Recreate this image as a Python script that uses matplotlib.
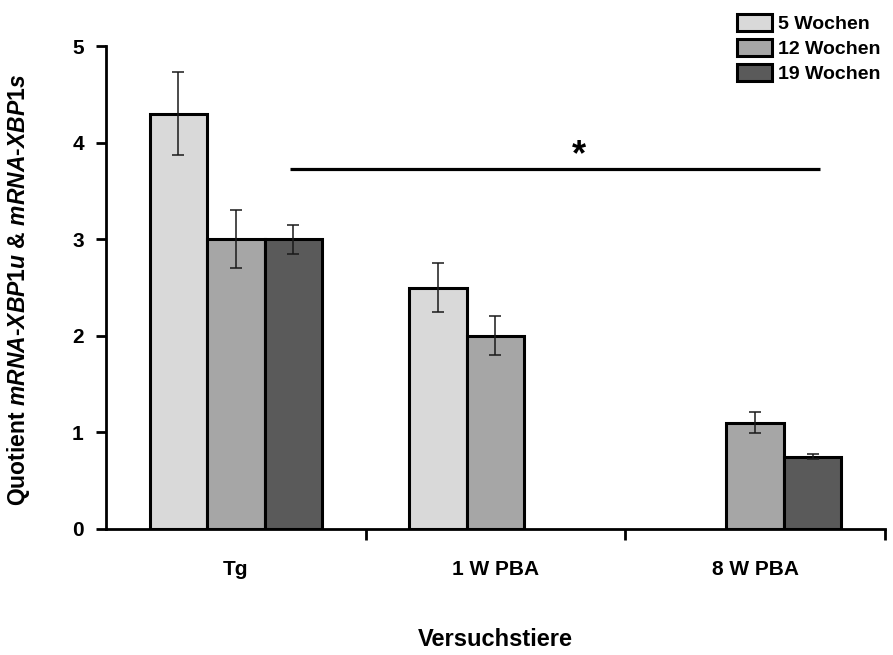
import numpy as np
import matplotlib
matplotlib.use("Agg")
import matplotlib.pyplot as plt

plt.rcParams['font.family'] = ['Liberation Sans', 'DejaVu Sans']
plt.rcParams['mathtext.fontset'] = 'custom'
plt.rcParams['mathtext.it'] = 'Liberation Sans:bold:italic'
plt.rcParams['mathtext.rm'] = 'Liberation Sans:bold'
plt.rcParams['mathtext.bf'] = 'Liberation Sans:bold'

# Data
groups = ["Tg", "1 W PBA", "8 W PBA"]
series = ["5 Wochen", "12 Wochen", "19 Wochen"]
wk5 = [4.3, 2.5, np.nan]
wk12 = [3.0, 2.0, 1.1]
wk19 = [3.0, np.nan, 0.75]
err5 = [0.43, 0.25, np.nan]
err12 = [0.30, 0.20, 0.11]
err19 = [0.15, np.nan, 0.03]
yticks = [0, 1, 2, 3, 4, 5]

values = [wk5, wk12, wk19]
errors = [err5, err12, err19]
colors = ["#d9d9d9", "#a6a6a6", "#5a5a5a"]

fig = plt.figure(figsize=(8.93, 6.55), dpi=100)
W, H = 893, 655
ax = fig.add_axes([106 / W, (H - 529) / H, (885 - 106) / W, (529 - 46) / H])

x = np.arange(len(groups))
width = 0.221
offsets = [-width, 0.0, width]

handles = []
for vals, errs, col, off, name in zip(values, errors, colors, offsets, series):
    v = np.array(vals, dtype=float)
    e = np.array(errs, dtype=float)
    m = ~np.isnan(v)
    b = ax.bar(x[m] + off, v[m], width, color=col, edgecolor="black",
               linewidth=2.2, label=name, zorder=2)
    ax.errorbar(x[m] + off, v[m], yerr=e[m], fmt="none", ecolor="#1a1a1a",
                elinewidth=1.1, capsize=4.5, capthick=1.1, zorder=3)
    handles.append(b)

# Significance bar
ax.plot([0.21, 2.25], [3.73, 3.73], color="black", linewidth=2.3,
        solid_capstyle="butt", zorder=4)
ax.text(1.32, 3.68, "*", ha="center", va="bottom", fontsize=26,
        fontweight="bold")

ax.set_xlim(-0.5, 2.5)
ax.set_ylim(0, 5)
ax.set_yticks(yticks)
ax.set_yticklabels([str(t) for t in yticks], fontsize=15, fontweight="bold")
ax.set_xticks(x)
ax.set_xticklabels(groups, fontsize=15, fontweight="bold")
ax.tick_params(axis="x", which="major", length=0, pad=22)
ax.set_xticks([0.5, 1.5, 2.5], minor=True)
ax.tick_params(axis="x", which="minor", length=8, width=2, direction="out")
ax.tick_params(axis="y", length=7, width=2, direction="out", pad=9)

for s in ["top", "right"]:
    ax.spines[s].set_visible(False)
for s in ["left", "bottom"]:
    ax.spines[s].set_linewidth(2)

fig.text(19 / W, 1 - 290 / H,
         r"Quotient $\mathit{mRNA}$-$\mathit{XBP1u}$ & $\mathit{mRNA}$-$\mathit{XBP1s}$",
         rotation=90, ha="center", va="center", fontsize=16.5, fontweight="bold")
fig.text(495 / W, 1 - 640 / H, "Versuchstiere", ha="center", va="center",
         fontsize=17, fontweight="bold")

fig.legend(handles=handles, labels=series, loc="upper left",
           bbox_to_anchor=(723 / W, 1.0), frameon=False,
           prop={"size": 14, "weight": "bold"}, handlelength=1.8,
           handleheight=1.0, handletextpad=0.35, labelspacing=0.3,
           borderpad=0.2)

fig.savefig("out.png", dpi=100)
